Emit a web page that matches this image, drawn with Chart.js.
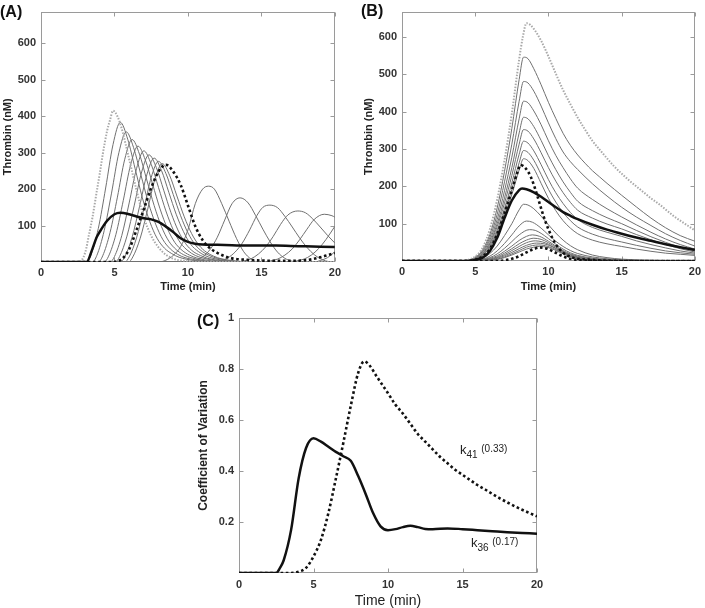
<!DOCTYPE html>
<html>
<head>
<meta charset="utf-8">
<script src="https://cdn.jsdelivr.net/npm/chart.js@4.4.1/dist/chart.umd.min.js"></script>
<style>
  html, body { margin:0; padding:0; background:#fff; }
  #wrap { position:relative; width:705px; height:608px; overflow:hidden; font-family:"Liberation Sans", Arial, sans-serif; }
  canvas { position:absolute; }
  .plab { position:absolute; font-weight:bold; font-size:16px; line-height:16px; color:#111; }
  .ann { position:absolute; font-size:13px; color:#222; white-space:nowrap; line-height:14px; }
  .ann sub { font-size:10px; vertical-align:-4px; }
  .ann .v { font-size:10px; position:relative; top:-2px; }
</style>
</head>
<body>
<div id="wrap">
  <canvas id="cA" width="345" height="296" style="left:0;top:0"></canvas>
  <canvas id="cB" width="355" height="296" style="left:350px;top:0"></canvas>
  <canvas id="cC" width="380" height="312" style="left:170px;top:300px"></canvas>
  <div class="plab" style="left:0;top:4px">(A)</div>
  <div class="plab" style="left:361px;top:3px">(B)</div>
  <div class="plab" style="left:197px;top:313px">(C)</div>
  <div class="ann" style="left:460px;top:443px">k<sub>41</sub> <span class="v">(0.33)</span></div>
  <div class="ann" style="left:471px;top:536px">k<sub>36</sub> <span class="v">(0.17)</span></div>
</div>
<script>
// ---------- tick labels ----------
const xTicks = [0, 5, 10, 15, 20];
const yTicksAB = [100, 200, 300, 400, 500, 600];
const yTicksC = [0.2, 0.4, 0.6, 0.8, 1];

// ---------- Panel A : thrombin (nM) vs time (min) ----------
const aMean = [[0,0],[3.1,0],[3.5,36],[3.78,67],[4,83],[4.5,113],[5,131],[5.4,135],[6,131],[6.5,125],[7,120],[7.5,117],[8,110],[8.5,97],[9,82],[9.5,65],[10,55],[10.5,50],[11,48],[12,47],[13,46],[14,45],[15,45],[16,45],[17,44],[18,43],[19,42],[20,41]];
const aK41 = [[0,0],[4.8,0],[5.5,8],[6,35],[6.5,88],[7,145],[7.5,203],[8,248],[8.5,267],[9,248],[9.5,212],[10,155],[10.5,98],[11,60],[11.5,38],[12,25],[12.5,16],[13,10],[14,6],[15,4],[16,3],[17,3],[18,5],[18.5,8],[19,13],[19.5,19],[20,25]];
const aHigh = [[0,0],[2.6,0],[3,25],[3.3,82],[3.5,122],[3.8,195],[4,243],[4.2,295],[4.5,360],[4.7,390],[4.9,415],[5.2,400],[5.5,365],[6,282],[6.5,197],[7,122],[7.5,72],[8,40],[8.5,20],[9,9],[10,2],[11,0],[20,0]];
const aF1 = [[0,0],[3.1,0],[3.4,19],[3.9,92],[4.4,203],[4.9,322],[5.4,383],[5.9,337],[6.4,257],[6.9,176],[7.4,111],[7.9,65],[8.4,38],[8.9,23],[9.4,13],[10.4,4],[11.4,0],[20,0]];
const aF2 = [[0,0],[3.5,0],[3.8,18],[4.3,86],[4.8,189],[5.3,300],[5.8,357],[6.3,314],[6.8,239],[7.3,164],[7.8,104],[8.3,61],[8.8,36],[9.3,21],[9.8,12],[10.8,4],[11.8,0],[20,0]];
const aF3 = [[0,0],[3.9,0],[4.2,17],[4.7,81],[5.2,178],[5.7,282],[6.2,336],[6.7,296],[7.2,225],[7.7,155],[8.2,97],[8.7,57],[9.2,34],[9.7,20],[10.2,12],[11.2,3],[12.2,0],[20,0]];
const aF4 = [[0,0],[4.3,0],[4.6,16],[5.1,76],[5.6,169],[6.1,267],[6.6,318],[7.1,280],[7.6,213],[8.1,146],[8.6,92],[9.1,54],[9.6,32],[10.1,19],[10.6,11],[11.6,3],[12.6,0],[20,0]];
const aF5 = [[0,0],[4.7,0],[5,15],[5.5,73],[6,162],[6.5,256],[7,305],[7.5,268],[8,204],[8.5,140],[9,88],[9.5,52],[10,31],[10.5,18],[11,11],[12,3],[13,0],[20,0]];
const aF6 = [[0,0],[5.05,0],[5.35,15],[5.85,71],[6.35,156],[6.85,247],[7.35,294],[7.85,259],[8.35,197],[8.85,135],[9.35,85],[9.85,50],[10.35,29],[10.85,18],[11.35,10],[12.35,3],[13.35,0],[20,0]];
const aF7 = [[0,0],[5.4,0],[5.7,14],[6.2,68],[6.7,151],[7.2,239],[7.7,285],[8.2,251],[8.7,191],[9.2,131],[9.7,83],[10.2,48],[10.7,29],[11.2,17],[11.7,10],[12.7,3],[13.7,0],[20,0]];
const aF8 = [[0,0],[5.7,0],[6,14],[6.5,66],[7,146],[7.5,232],[8,276],[8.5,243],[9,185],[9.5,127],[10,80],[10.5,47],[11,28],[11.5,17],[12,10],[13,3],[14,0],[20,0]];
const aF9 = [[0,0],[5.95,0],[6.25,14],[6.75,65],[7.25,143],[7.75,227],[8.25,270],[8.75,238],[9.25,181],[9.75,124],[10.25,78],[10.75,46],[11.25,27],[11.75,16],[12.25,9],[13.25,3],[14.25,0],[20,0]];
const aL1 = [[0,0],[8,0],[8.5,5],[9,18],[9.5,42],[10,88],[10.5,160],[11,200],[11.4,208],[11.8,200],[12.3,160],[12.8,112],[13.3,65],[13.8,28],[14.3,8],[14.8,0],[20,0]];
const aL2 = [[0,0],[10,0],[10.5,4],[11,14],[11.5,34],[12,68],[12.5,115],[13,160],[13.55,176],[14.1,162],[14.6,128],[15.1,90],[15.6,55],[16.1,27],[16.6,10],[17.1,2],[17.5,0],[20,0]];
const aL3 = [[0,0],[11.7,0],[12.2,3],[12.7,11],[13.2,27],[13.7,52],[14.2,88],[14.7,128],[15.1,150],[15.58,156],[16.1,149],[16.6,125],[17.1,96],[17.6,66],[18.1,40],[18.6,20],[19.1,7],[19.6,1],[20,0]];
const aL4 = [[0,0],[13.3,0],[13.8,3],[14.3,9],[14.8,22],[15.3,42],[15.8,70],[16.3,103],[16.8,129],[17.48,140],[18,135],[18.5,118],[19,96],[19.5,73],[20,52]];
const aL5 = [[0,0],[15.1,0],[15.6,3],[16.1,8],[16.6,19],[17.1,36],[17.6,61],[18.1,90],[18.6,117],[19.28,131],[19.8,127],[20,123]];
const aR1 = [[0,0],[16.9,0],[17.4,3],[17.9,8],[18.4,19],[18.9,37],[19.4,62],[20,98]];
const aR2 = [[0,0],[18.6,0],[19,4],[19.5,12],[20,28]];

// ---------- Panel B : thrombin (nM) vs time (min) ----------
const bMean = [[0,0],[4.5,0],[5,3],[5.5,9],[6,27],[6.5,62],[7,115],[7.5,162],[8,190],[8.2,194],[8.5,192],[9,184],[9.5,172],[10,158],[10.5,144],[11,131],[11.5,121],[12,112],[13,97],[14,84],[15,73],[16,63],[17,54],[18,45],[19,37],[20,30]];
const bK41 = [[0,0],[4.5,0],[5,3],[5.5,12],[6,32],[6.5,72],[7,128],[7.5,190],[7.9,240],[8.1,257],[8.4,250],[8.8,225],[9.2,180],[9.6,128],[10,85],[10.5,45],[11,22],[11.5,11],[12,6],[13,3],[14,1],[16,0],[20,0]];
const bK41low = [[0,0],[6.5,0],[7,2],[7.5,6],[8,13],[8.5,23],[9,32],[9.4,36],[9.9,33],[10.4,24],[10.9,14],[11.4,7],[12,3],[13,1],[14,0],[20,0]];
const bHigh = [[0,0],[4,0],[4.5,3],[5,12],[5.5,35],[6,85],[6.5,165],[7,270],[7.5,395],[8,540],[8.25,600],[8.5,637],[8.75,633],[9,622],[9.5,590],[10,548],[10.5,502],[11,458],[11.5,420],[12,384],[12.5,352],[13,322],[13.5,298],[14,275],[14.5,253],[15,234],[15.5,216],[16,200],[16.5,184],[17,168],[17.5,154],[18,138],[18.5,122],[19,108],[19.5,95],[20,82]];
const bU1 = [[0,0],[4,0],[4.5,2],[5,10],[5.5,30],[6,71],[6.5,142],[7,240],[7.5,355],[8,486],[8.3,546],[8.6,542],[9,515],[9.5,472],[10,425],[10.5,382],[11,342],[11.5,310],[12,284],[12.5,262],[13,242],[13.5,225],[14,208],[14.5,192],[15,176],[16,145],[17,115],[18,89],[19,68],[20,53]];
const bU2 = [[0,0],[4,0],[4.5,2],[5,9],[5.5,26],[6,63],[6.5,125],[7,212],[7.5,313],[8,428],[8.3,481],[8.6,477],[9,455],[9.5,415],[10,370],[10.5,328],[11,292],[11.5,266],[12,245],[13,207],[14,174],[15,144],[16,118],[17,95],[18,73],[19,55],[20,40]];
const bU3 = [[0,0],[4,0],[4.5,2],[5,8],[5.5,24],[6,56],[6.5,111],[7,188],[7.5,278],[8,381],[8.3,428],[8.6,424],[9,402],[9.5,365],[10,322],[10.5,283],[11,250],[11.5,220],[12,195],[13,165],[14,140],[15,118],[16,97],[17,77],[18,59],[19,44],[20,32]];
const bU4 = [[0,0],[4,0],[4.5,2],[5,7],[5.5,21],[6,50],[6.5,100],[7,169],[7.5,250],[8,343],[8.3,385],[8.6,381],[9,360],[9.5,323],[10,282],[10.5,245],[11,212],[11.5,184],[12,160],[13,135],[14,116],[15,100],[16,82],[17,65],[18,50],[19,37],[20,27]];
const bU5 = [[0,0],[4,0],[4.5,1],[5,6],[5.5,19],[6,46],[6.5,92],[7,155],[7.5,229],[8,313],[8.3,352],[8.6,348],[9,327],[9.5,290],[10,250],[10.5,214],[11,183],[11.5,157],[12,136],[13,115],[14,99],[15,86],[16,71],[17,57],[18,44],[19,33],[20,24]];
const bU6 = [[0,0],[4,0],[4.5,1],[5,6],[5.5,18],[6,42],[6.5,83],[7,141],[7.5,209],[8,286],[8.3,321],[8.6,316],[9,295],[9.5,258],[10,218],[10.5,183],[11,154],[11.5,130],[12,111],[13,90],[14,77],[15,66],[16,54],[17,44],[18,35],[19,27],[20,21]];
const bU7 = [[0,0],[4,0],[4.5,1],[5,5],[5.5,16],[6,38],[6.5,77],[7,130],[7.5,192],[8,263],[8.3,296],[8.6,291],[9,270],[9.5,232],[10,192],[10.5,158],[11,130],[11.5,108],[12,91],[13,72],[14,60],[15,51],[16,42],[17,34],[18,27],[19,22],[20,18]];
const bU8 = [[0,0],[4,0],[4.5,1],[5,5],[5.5,15],[6,36],[6.5,71],[7,121],[7.5,178],[8,244],[8.3,274],[8.6,269],[9,248],[9.5,208],[10,168],[10.5,135],[11,108],[11.5,88],[12,73],[13,56],[14,46],[15,39],[16,32],[17,26],[18,21],[19,18],[20,15]];
const bL1 = [[0,0],[4.5,0],[5,3],[5.5,8],[6,20],[6.5,40],[7,68],[7.5,100],[8,137],[8.3,152],[8.6,150],[9,140],[9.5,120],[10,97],[10.5,75],[11,56],[11.5,41],[12,30],[13,16],[14,9],[15,5],[16,3],[18,1],[20,0]];
const bL2 = [[0,0],[4.8,0],[5,2],[5.5,5],[6,13],[6.5,27],[7,47],[7.5,70],[8,94],[8.5,107],[8.9,104],[9.5,88],[10,70],[10.5,53],[11,39],[11.5,28],[12,20],[13,11],[14,6],[15,3],[17,1],[20,0]];
const bL3 = [[0,0],[5,0],[5.5,4],[6,9],[6.5,19],[7,34],[7.5,52],[8,70],[8.7,84],[9.1,82],[9.5,74],[10,60],[10.5,45],[11,32],[11.5,22],[12,15],[13,8],[14,4],[15,2],[17,0],[20,0]];
const bL4 = [[0,0],[5.2,0],[5.5,3],[6,7],[6.5,14],[7,26],[7.5,40],[8,55],[8.5,66],[8.9,70],[9.4,66],[10,53],[10.5,40],[11,28],[11.5,19],[12,13],[13,6],[14,3],[16,0],[20,0]];
const bL5 = [[0,0],[5.3,0],[5.5,2],[6,5],[6.5,11],[7,21],[7.5,33],[8,46],[8.5,56],[9,61],[9.5,58],[10,49],[10.5,37],[11,26],[11.5,17],[12,11],[13,5],[14,2],[16,0],[20,0]];
const bL6 = [[0,0],[5.4,0],[6,4],[6.5,9],[7,17],[7.5,28],[8,39],[8.5,49],[9.1,54],[9.6,51],[10,45],[10.5,34],[11,24],[11.5,16],[12,10],[13,4],[14,2],[16,0],[20,0]];
const bL7 = [[0,0],[5.5,0],[6,3],[6.5,7],[7,14],[7.5,23],[8,33],[8.5,42],[9.2,48],[9.7,46],[10.1,41],[10.5,33],[11,22],[11.5,14],[12,9],[13,4],[14,1],[16,0],[20,0]];
const bL8 = [[0,0],[5.6,0],[6,2],[6.5,5],[7,11],[7.5,19],[8,28],[8.5,37],[9.3,43],[9.8,41],[10.3,34],[10.8,24],[11.3,15],[11.8,9],[12.5,5],[13.5,2],[15,0],[20,0]];
const bL9 = [[0,0],[5.7,0],[6,2],[6.5,4],[7,9],[7.5,16],[8,24],[8.5,32],[9,37],[9.4,39],[9.9,37],[10.4,30],[10.9,21],[11.4,13],[11.9,8],[12.5,4],[13.5,1],[15,0],[20,0]];

// ---------- Panel C : coefficient of variation vs time (min) ----------
const cK36 = [[0,0],[2.5,0],[2.75,0.02],[3,0.05],[3.5,0.17],[4,0.37],[4.5,0.49],[5,0.528],[5.5,0.515],[6,0.495],[6.5,0.475],[7,0.458],[7.5,0.44],[8,0.38],[8.5,0.31],[9,0.235],[9.5,0.183],[10,0.168],[10.5,0.172],[11,0.18],[11.5,0.185],[12,0.18],[12.5,0.173],[13,0.172],[14,0.175],[15,0.172],[16,0.168],[17,0.164],[18,0.16],[19,0.157],[20,0.154]];
const cK41 = [[0,0],[3.5,0],[4,0.005],[4.5,0.02],[5,0.065],[5.5,0.13],[6,0.235],[6.5,0.37],[7,0.51],[7.5,0.655],[8,0.785],[8.4,0.83],[8.75,0.815],[9.25,0.77],[10,0.705],[10.5,0.66],[11,0.625],[11.5,0.585],[12,0.545],[12.5,0.515],[13,0.485],[13.5,0.455],[14,0.43],[14.5,0.405],[15,0.385],[15.5,0.365],[16,0.345],[16.5,0.328],[17,0.31],[17.5,0.293],[18,0.277],[18.5,0.262],[19,0.248],[19.5,0.235],[20,0.222]];

// ---------- styles ----------
const FONT = '"Liberation Sans", Arial, sans-serif';
const S_GRAY = { borderColor:'#707070', borderWidth:1 };
const S_GRAYDOT = { borderColor:'#a9a9a9', borderWidth:2, borderDash:[1.5,1.5] };
const S_BLACKDOT = { borderColor:'#111', borderWidth:2.6, borderDash:[2.6,2.6] };
const S_BLACK = { borderColor:'#111', borderWidth:2.5 };

function ds(points, style) {
  return Object.assign({
    data: points.map(p => ({ x:p[0], y:p[1] })),
    pointRadius:0, fill:false, cubicInterpolationMode:'monotone'
  }, style);
}

const framePlugin = {
  id:'frame',
  beforeDatasetsDraw(chart) {
    const { ctx, chartArea:a, scales:{ x, y } } = chart;
    ctx.save();
    ctx.strokeStyle = '#9a9a9a';
    ctx.lineWidth = 1;
    const L = Math.round(a.left) + 0.5, R = Math.round(a.right) - 0.5;
    const T = Math.round(a.top) + 0.5, B = Math.round(a.bottom) - 0.5;
    ctx.strokeRect(L, T, R - L, B - T);
    ctx.beginPath();
    x.ticks.forEach(t => {
      const px = Math.round(x.getPixelForValue(t.value)) + 0.5;
      ctx.moveTo(px, B); ctx.lineTo(px, B - 4);
      ctx.moveTo(px, T); ctx.lineTo(px, T + 4);
    });
    y.ticks.forEach(t => {
      const py = Math.round(y.getPixelForValue(t.value)) + 0.5;
      ctx.moveTo(L, py); ctx.lineTo(L + 4, py);
      ctx.moveTo(R, py); ctx.lineTo(R - 4, py);
    });
    ctx.stroke();
    ctx.restore();
  }
};

function makeChart(id, datasets, c) {
  return new Chart(document.getElementById(id), {
    type:'line',
    data:{ datasets },
    options:{
      responsive:false, animation:false, events:[],
      layout:{ padding:c.pad },
      plugins:{ legend:{ display:false }, tooltip:{ enabled:false } },
      scales:{
        x:{
          type:'linear', min:0, max:20,
          grid:{ display:false, drawTicks:false }, border:{ display:false },
          afterBuildTicks:s => { s.ticks = xTicks.map(v => ({ value:v })); },
          afterFit:s => { s.height = c.xh; },
          ticks:{ padding:c.xtp, maxRotation:0, autoSkip:false, color:'#333',
                  font:{ family:FONT, size:11, weight:'bold' }, callback:v => String(v) },
          title:{ display:true, text:'Time (min)', color:'#222', font:c.xtf,
                  padding:{ top:0, bottom:c.xtpad } }
        },
        y:{
          type:'linear', min:0, max:c.ymax,
          grid:{ display:false, drawTicks:false }, border:{ display:false },
          afterBuildTicks:s => { s.ticks = c.yticks.map(v => ({ value:v })); },
          afterFit:s => { s.width = c.yw; },
          ticks:{ padding:5, autoSkip:false, color:'#333',
                  font:{ family:FONT, size:11, weight:'bold' }, callback:v => String(v) },
          title:{ display:true, text:c.ytitle, color:'#222', font:c.ytf,
                  padding:{ top:c.ytpad, bottom:0 } }
        }
      }
    },
    plugins:[framePlugin]
  });
}

const aSets = [
  ds(aMean, S_BLACK), ds(aK41, S_BLACKDOT), ds(aHigh, S_GRAYDOT),
  ds(aF1, S_GRAY), ds(aF2, S_GRAY), ds(aF3, S_GRAY), ds(aF4, S_GRAY), ds(aF5, S_GRAY),
  ds(aF6, S_GRAY), ds(aF7, S_GRAY), ds(aF8, S_GRAY), ds(aF9, S_GRAY),
  ds(aL1, S_GRAY), ds(aL2, S_GRAY), ds(aL3, S_GRAY), ds(aL4, S_GRAY), ds(aL5, S_GRAY),
  ds(aR1, S_GRAY), ds(aR2, S_GRAY)
];
const bSets = [
  ds(bMean, S_BLACK), ds(bK41, S_BLACKDOT), ds(bK41low, S_BLACKDOT), ds(bHigh, S_GRAYDOT),
  ds(bU1, S_GRAY), ds(bU2, S_GRAY), ds(bU3, S_GRAY), ds(bU4, S_GRAY), ds(bU5, S_GRAY),
  ds(bU6, S_GRAY), ds(bU7, S_GRAY), ds(bU8, S_GRAY),
  ds(bL1, S_GRAY), ds(bL2, S_GRAY), ds(bL3, S_GRAY), ds(bL4, S_GRAY), ds(bL5, S_GRAY),
  ds(bL6, S_GRAY), ds(bL7, S_GRAY), ds(bL8, S_GRAY), ds(bL9, S_GRAY)
];
const cSets = [ ds(cK36, S_BLACK), ds(cK41, S_BLACKDOT) ];

const titleFontAB = { family:FONT, size:11, weight:'bold' };

makeChart('cA', aSets, {
  pad:{ left:0, top:5, right:8, bottom:0 }, xh:34, yw:41, xtp:4, xtpad:2,
  ymax:687, yticks:yTicksAB, ytitle:'Thrombin (nM)', ytpad:1,
  xtf:titleFontAB, ytf:titleFontAB
});
makeChart('cB', bSets, {
  pad:{ left:0, top:12, right:6, bottom:0 }, xh:35, yw:52, xtp:4, xtpad:2,
  ymax:667, yticks:yTicksAB, ytitle:'Thrombin (nM)', ytpad:12,
  xtf:titleFontAB, ytf:titleFontAB
});
makeChart('cC', cSets, {
  pad:{ left:0, top:18, right:13, bottom:0 }, xh:39, yw:69, xtp:5, xtpad:2,
  ymax:1, yticks:yTicksC, ytitle:'Coefficient of Variation', ytpad:26,
  xtf:{ family:FONT, size:14 }, ytf:{ family:FONT, size:12, weight:'bold' }
});
</script>
</body>
</html>
